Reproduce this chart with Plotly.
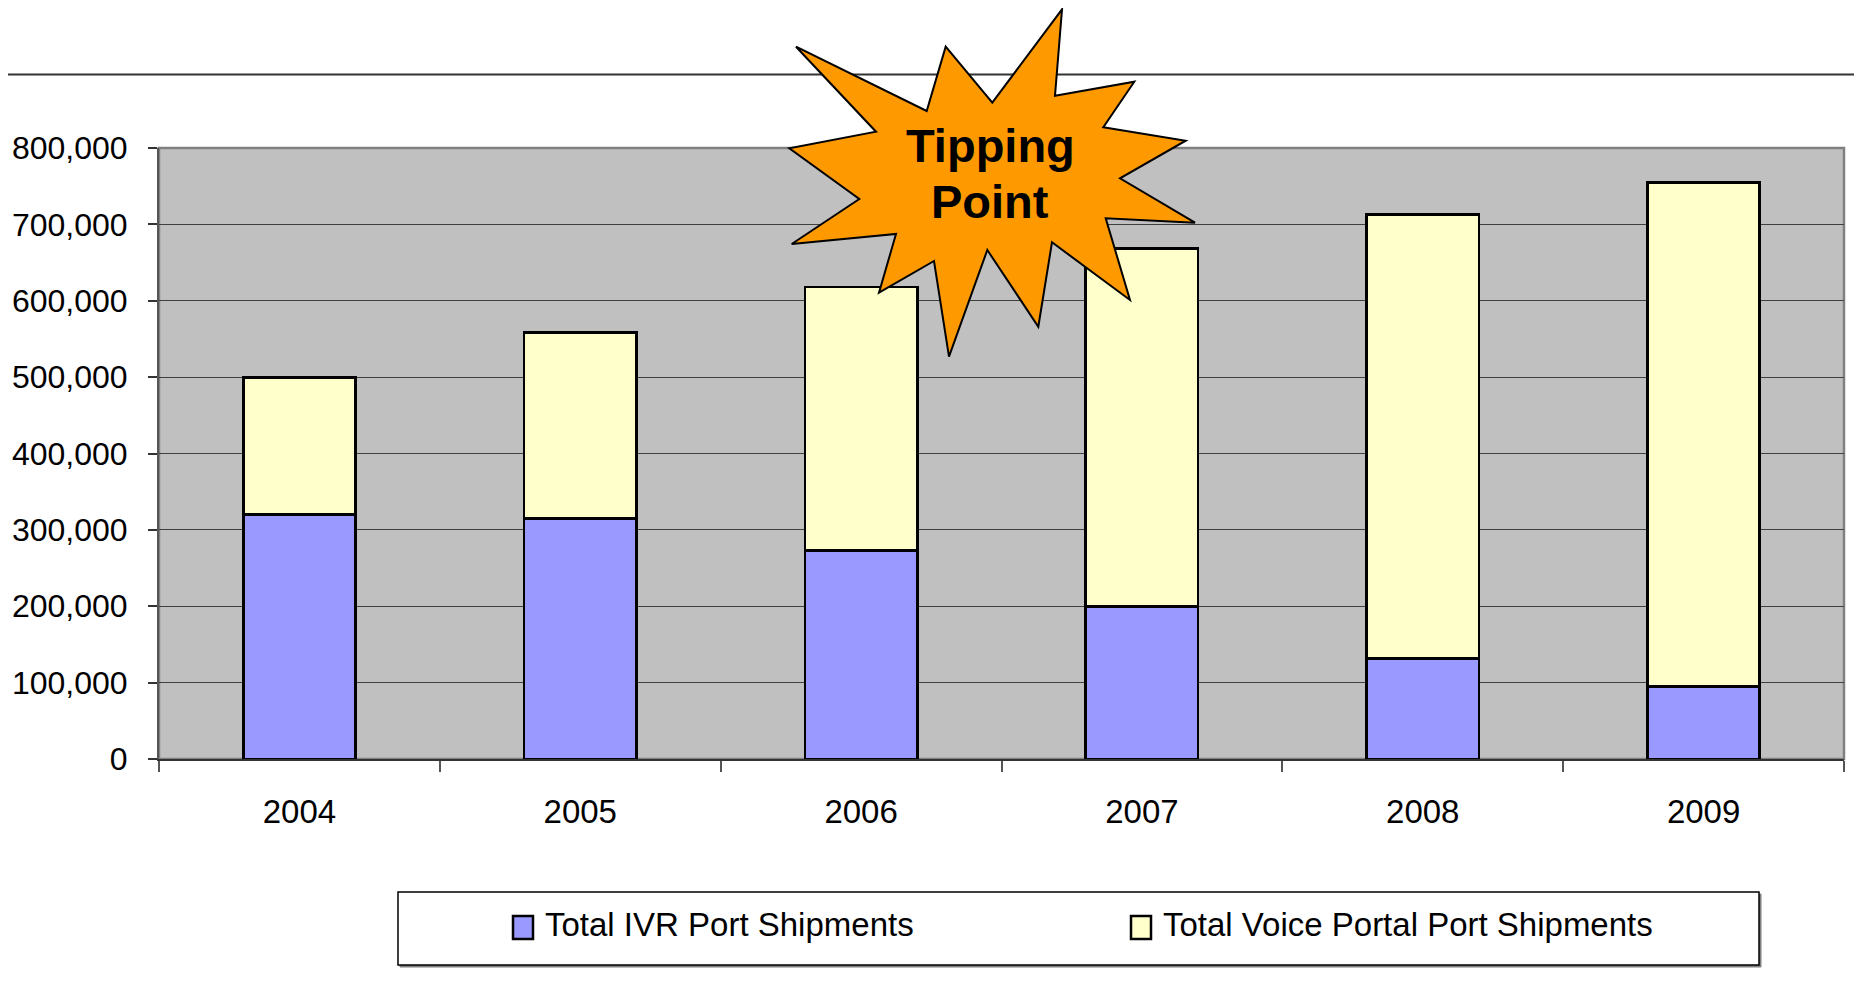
import plotly.graph_objects as go

# ---- data ----
years = ["2004", "2005", "2006", "2007", "2008", "2009"]
ivr_ports = [320000, 315000, 273000, 200000, 132000, 95000]
voice_portal_ports = [180000, 243000, 345000, 468000, 581000, 660000]
series_names = ["Total IVR Port Shipments", "Total Voice Portal Port Shipments"]
ytick_vals = [0, 100000, 200000, 300000, 400000, 500000, 600000, 700000, 800000]
callout_lines = ["Tipping", "Point"]

IVR_COLOR = "#9999FF"
VOICE_COLOR = "#FFFFCC"
FONT = "Liberation Sans, Arial, sans-serif"

OFF = 8  # default page body margin
W, H = 1862 - OFF, 985 - OFF
L, R, T, B = 159 - OFF, 18, 148 - OFF, 226
PW, PH = W - L - R, H - T - B


def xp(px):
    # px = page pixel x
    return (px - OFF - L) / PW


def yp(py):
    # py = page pixel y
    return (H - B - (py - OFF)) / PH


fig = go.Figure()
fig.add_trace(go.Bar(
    x=years, y=ivr_ports, name=series_names[0],
    marker=dict(color=IVR_COLOR, line=dict(color="black", width=2.8)),
    showlegend=False,
))
fig.add_trace(go.Bar(
    x=years, y=voice_portal_ports, name=series_names[1],
    marker=dict(color=VOICE_COLOR, line=dict(color="black", width=2.8)),
    showlegend=False,
))

shapes = []
# plot-area border (gray)
shapes.append(dict(type="rect", xref="paper", yref="paper", x0=0, x1=1, y0=0, y1=1,
                   line=dict(color="#808080", width=2.5), fillcolor="rgba(0,0,0,0)", layer="below"))
# top separator line across whole page
shapes.append(dict(type="line", xref="paper", yref="paper", x0=xp(OFF), x1=xp(1862), y0=yp(74.5), y1=yp(74.5),
                   line=dict(color="#333333", width=2)))

# starburst callout
star_pts = [
    (796, 46.7), (926.7, 111), (945.7, 46.7), (992.3, 102.7), (1062, 9.3), (1055, 95.7),
    (1134.3, 81.7), (1103.3, 127.3), (1185.7, 140.7), (1120, 178.3), (1195, 222.7),
    (1105.7, 218.3), (1130, 300), (1052, 242.3), (1038.3, 326.7), (987.3, 250),
    (949, 356.7), (934, 261), (879, 292.7), (896, 234), (791.7, 244), (859.3, 199),
    (789.3, 148.3), (876, 131.7),
]
path = "M " + " L ".join(f"{xp(x):.5f},{yp(y):.5f}" for x, y in star_pts) + " Z"
shapes.append(dict(type="path", xref="paper", yref="paper", path=path,
                   fillcolor="#FF9900", line=dict(color="black", width=2), layer="above"))

# legend box (manual) with shadow
shapes.append(dict(type="rect", xref="paper", yref="paper", x0=xp(400), x1=xp(1761), y0=yp(967), y1=yp(894),
                   line=dict(color="#808080", width=1), fillcolor="#808080"))
shapes.append(dict(type="rect", xref="paper", yref="paper", x0=xp(398), x1=xp(1759), y0=yp(965), y1=yp(892),
                   line=dict(color="black", width=1.5), fillcolor="white"))
legend_items = [(513, 543, IVR_COLOR, series_names[0]), (1131, 1161, VOICE_COLOR, series_names[1])]
annotations = []
for sx, tx, col, name in legend_items:
    shapes.append(dict(type="rect", xref="paper", yref="paper", x0=xp(sx), x1=xp(sx + 20),
                       y0=yp(939), y1=yp(916), line=dict(color="black", width=2.5), fillcolor=col))
    annotations.append(dict(xref="paper", yref="paper", x=xp(tx), y=yp(924), xanchor="left", yanchor="middle",
                            text=name, showarrow=False, font=dict(family=FONT, size=33, color="black")))

# callout text
annotations.append(dict(xref="paper", yref="paper", x=xp(990), y=yp(145), text=callout_lines[0],
                        showarrow=False, xanchor="center", yanchor="middle",
                        font=dict(family=FONT, size=47, color="black", weight="bold")))
annotations.append(dict(xref="paper", yref="paper", x=xp(990), y=yp(202), text=callout_lines[1],
                        showarrow=False, xanchor="center", yanchor="middle",
                        font=dict(family=FONT, size=47, color="black", weight="bold")))

fig.update_layout(
    width=W, height=H,
    margin=dict(l=L, r=R, t=T, b=B, autoexpand=False),
    paper_bgcolor="white",
    plot_bgcolor="#C0C0C0",
    barmode="stack",
    bargap=0.6,
    showlegend=False,
    font=dict(family=FONT, size=33, color="black"),
    shapes=shapes,
    annotations=annotations,
    xaxis=dict(
        type="category",
        tickson="boundaries",
        ticks="outside", ticklen=11, tickwidth=1.5, tickcolor="#555555",
        showline=True, linecolor="#333333", linewidth=2,
        showgrid=False,
        ticklabelstandoff=22,
        tickfont=dict(family=FONT, size=33, color="black"),
        fixedrange=True,
    ),
    yaxis=dict(
        range=[0, 800000],
        tickvals=ytick_vals,
        tickformat=",",
        ticks="outside", ticklen=9, tickwidth=1.5, tickcolor="#333333",
        showline=True, linecolor="#555555", linewidth=2,
        showgrid=True, gridcolor="#404040", gridwidth=1.2,
        zeroline=False,
        ticklabelstandoff=14,
        tickfont=dict(family=FONT, size=32, color="black"),
        fixedrange=True,
    ),
)

fig.write_html("out.html")
